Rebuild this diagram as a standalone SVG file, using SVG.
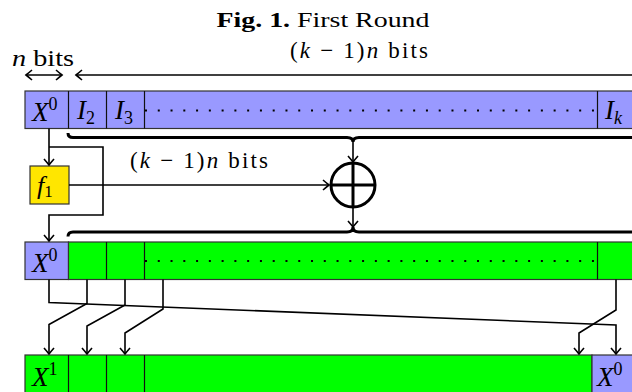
<svg xmlns="http://www.w3.org/2000/svg" width="632" height="392" viewBox="0 0 632 392">
<style>
text{font-family:"Liberation Serif","DejaVu Serif",serif;fill:#000}
.m{font-style:italic}
.lbl{font-size:27px}
.cellB{fill:#9999ff;stroke:#333;stroke-width:1.2}
.cellG{fill:#00ff00;stroke:#333;stroke-width:1.2}
.div{stroke:#111;stroke-width:1.2}
.dots{stroke:#000;stroke-width:2;stroke-dasharray:2 10.77;fill:none}
.c{fill:none;stroke:#000;stroke-width:1.6;stroke-linejoin:miter}
.a{marker-end:url(#arr)}
.brace{fill:none;stroke:#000;stroke-width:3}
.w{font-size:23px}
</style>
<defs>
<marker id="arr" viewBox="-8 -6 10 12" markerWidth="10" markerHeight="12" refX="0" refY="0" orient="auto-start-reverse" markerUnits="userSpaceOnUse">
<path d="M-6,-5 Q-2,-1.5 0,0 Q-2,1.5 -6,5" fill="none" stroke="#000" stroke-width="1.6"/>
</marker>
</defs>
<rect width="632" height="392" fill="#fff"/>
<g id="title">
<text x="323" y="27" font-size="22" text-anchor="middle" textLength="213" lengthAdjust="spacingAndGlyphs"><tspan font-weight="bold">Fig. 1.</tspan> First Round</text>
</g>
<g id="width-labels">
<text class="w" x="12" y="66" textLength="62" lengthAdjust="spacingAndGlyphs"><tspan class="m">n</tspan> bits</text>
<text class="w" x="290" y="58" textLength="138" lengthAdjust="spacing">(<tspan class="m">k</tspan> − 1)<tspan class="m">n</tspan> bits</text>
</g>
<g id="row1">
<rect class="cellB" x="25" y="91" width="620" height="37.5"/>
<line class="div" x1="68.5" y1="91" x2="68.5" y2="128.5"/>
<line class="div" x1="106.5" y1="91" x2="106.5" y2="128.5"/>
<line class="div" x1="144.5" y1="91" x2="144.5" y2="128.5"/>
<line class="div" x1="597.5" y1="91" x2="597.5" y2="128.5"/>
<line class="dots" x1="145" y1="110.5" x2="597" y2="110.5"/>
<text class="lbl" x="32" y="121"><tspan class="m">X</tspan><tspan font-size="18" dy="-11">0</tspan></text>
<text class="lbl" x="77" y="119"><tspan class="m">I</tspan><tspan font-size="18" dy="5">2</tspan></text>
<text class="lbl" x="115" y="119"><tspan class="m">I</tspan><tspan font-size="18" dy="5">3</tspan></text>
<text class="lbl" x="605" y="119"><tspan class="m">I</tspan><tspan class="m" font-size="18" dy="5">k</tspan></text>
</g>
<g id="f1">
<rect x="30" y="166" width="39" height="38" fill="#ffe600" stroke="#333" stroke-width="1.2"/>
<text x="37" y="194" font-size="26"><tspan class="m">f</tspan><tspan font-size="17" dy="3">1</tspan></text>
</g>
<g id="xor">
<circle cx="353" cy="185" r="22" fill="none" stroke="#000" stroke-width="3"/>
<line x1="331" y1="185" x2="375" y2="185" stroke="#000" stroke-width="3"/>
<line x1="353" y1="163" x2="353" y2="207" stroke="#000" stroke-width="3"/>
</g>
<g id="row2">
<rect class="cellB" x="25" y="242" width="43.5" height="37.5"/>
<rect class="cellG" x="68.5" y="242" width="580" height="37.5"/>
<line class="div" x1="106.5" y1="242" x2="106.5" y2="279.5"/>
<line class="div" x1="144.5" y1="242" x2="144.5" y2="279.5"/>
<line class="div" x1="597.5" y1="242" x2="597.5" y2="279.5"/>
<line class="dots" x1="145" y1="261" x2="597" y2="261"/>
<text class="lbl" x="32" y="272"><tspan class="m">X</tspan><tspan font-size="18" dy="-11">0</tspan></text>
</g>
<g id="row3">
<rect class="cellG" x="25" y="355" width="567" height="45"/>
<rect class="cellB" x="592" y="355" width="60" height="45"/>
<line class="div" x1="68.5" y1="355" x2="68.5" y2="400"/>
<line class="div" x1="106.5" y1="355" x2="106.5" y2="400"/>
<line class="div" x1="144.5" y1="355" x2="144.5" y2="400"/>
<text class="lbl" x="32" y="386"><tspan class="m">X</tspan><tspan font-size="18" dy="-11">1</tspan></text>
<text class="lbl" x="597" y="386"><tspan class="m">X</tspan><tspan font-size="18" dy="-11">0</tspan></text>
</g>
<g id="connectors">
<line class="c" x1="26" y1="75" x2="62" y2="75" marker-start="url(#arr)" marker-end="url(#arr)"/>
<line class="c" x1="76" y1="75" x2="640" y2="75" marker-start="url(#arr)"/>
<path class="brace" d="M68,133 Q68,137.5 73,137.5 L347,137.5 Q353,137.5 353,142 Q353,137.5 359,137.5 L640,137.5"/>
<path class="brace" d="M68,236.5 Q68,232 73,232 L347,232 Q353,232 353,227 Q353,232 359,232 L640,232"/>
<path class="c a" d="M353,142 L353,162"/>
<path class="c a" d="M353,208 L353,227"/>
<path class="c a" d="M49,128.5 L49,165"/>
<path class="c a" d="M49,147 L103,147 L103,215 L49,215 L49,241"/>
<path class="c a" d="M69,185 L329,185"/>
<text class="w" x="130" y="168" textLength="138" lengthAdjust="spacing">(<tspan class="m">k</tspan> − 1)<tspan class="m">n</tspan> bits</text>
<path class="c a" d="M49,279.5 L49,302.5 L616,325 L616,354"/>
<path class="c a" d="M87,279.5 L87,303.5 L49,324.5 L49,354"/>
<path class="c a" d="M125,279.5 L125,305 L87,326 L87,354"/>
<path class="c a" d="M163,279.5 L163,309 L125,333 L125,354"/>
<path class="c a" d="M616,279.5 L616,310 L579,333 L579,354"/>
</g>
</svg>
